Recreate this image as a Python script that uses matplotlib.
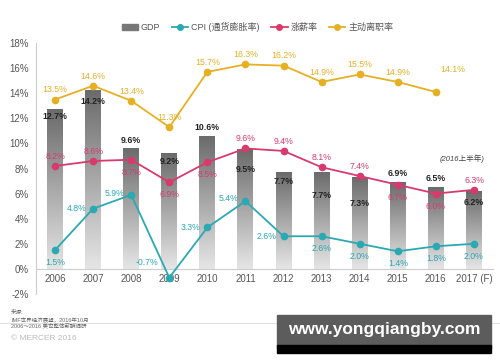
import numpy as np
import matplotlib
matplotlib.use("Agg")
import matplotlib.pyplot as plt
from matplotlib.patches import Rectangle
from matplotlib.lines import Line2D

plt.rcParams['font.family'] = ['Liberation Sans', 'Noto Sans CJK SC', 'DejaVu Sans']

# data
years = ['2006', '2007', '2008', '2009', '2010', '2011', '2012', '2013',
         '2014', '2015', '2016', '2017 (F)']
gdp = [12.7, 14.2, 9.6, 9.2, 10.6, 9.5, 7.7, 7.7, 7.3, 6.9, 6.5, 6.2]
cpi = [1.5, 4.8, 5.9, -0.7, 3.3, 5.4, 2.6, 2.6, 2.0, 1.4, 1.8, 2.0]
salary = [8.2, 8.6, 8.7, 6.9, 8.5, 9.6, 9.4, 8.1, 7.4, 6.7, 6.0, 6.3]
turnover = [13.5, 14.6, 13.4, 11.3, 15.7, 16.3, 16.2, 14.9, 15.5, 14.9, 14.1]

c_cpi = '#2aa9b2'
c_sal = '#d93a6e'
c_turn = '#e6b023'
c_txt = '#555555'

# label offsets in points (dx, dy)
gdp_off = [(0, -5), (0, -8), (0, 6), (0, -6), (0, 6), (0, -14), (0, -7),
           (0, -17), (0, -19), (0, 6), (0, 6), (0, -8)]
cpi_off = [(0, -9), (-12, 0), (-12, 1), (-16, 11), (-12, 0), (-12, 2),
           (-12, 0), (0, -9), (0, -9), (0, -9), (0, -9), (0, -9)]
sal_off = [(0, 7), (0, 7), (0, -9), (0, -9), (0, -9), (0, 7), (0, 7),
           (0, 7), (0, 7), (0, -9), (0, -9), (0, 7)]
turn_off = [(0, 7), (0, 7), (0, 7), (0, 7), (0, 7), (0, 7), (0, 7),
            (0, 7), (0, 7), (0, 7), (12, 16)]

fig = plt.figure(figsize=(5, 3.62), dpi=100)
ax = fig.add_axes([0.072, 0.188, 0.914, 0.693])
x = np.arange(len(years))
w = 0.42

# gradient bars
grad = np.linspace(0.9, 0.42, 256).reshape(-1, 1)
for xi, h in zip(x, gdp):
    ax.imshow(grad, extent=[xi - w / 2, xi + w / 2, 0, h], origin='lower',
              cmap='gray', vmin=0, vmax=1, aspect='auto', zorder=1)

ax.plot(x, cpi, color=c_cpi, lw=1.3, marker='o', ms=4.5, zorder=3)
ax.plot(x, salary, color=c_sal, lw=1.3, marker='o', ms=4.5, zorder=3)
ax.plot(x[:len(turnover)], turnover, color=c_turn, lw=1.3, marker='o', ms=4.5, zorder=3)

fs = 6.3
for xi, v, o in zip(x, gdp, gdp_off):
    ax.annotate(f'{v}%', (xi, v), xytext=o, textcoords='offset points',
                ha='center', va='center', fontsize=fs, fontweight='bold',
                color='#222222', zorder=4)
for xi, v, o in zip(x, cpi, cpi_off):
    ax.annotate(f'{v}%', (xi, v), xytext=o, textcoords='offset points',
                ha='center', va='center', fontsize=fs, color=c_cpi, zorder=4)
for xi, v, o in zip(x, salary, sal_off):
    ax.annotate(f'{v}%', (xi, v), xytext=o, textcoords='offset points',
                ha='center', va='center', fontsize=fs, color=c_sal, zorder=4)
for xi, v, o in zip(x, turnover, turn_off):
    ax.annotate(f'{v}%', (xi, v), xytext=o, textcoords='offset points',
                ha='center', va='center', fontsize=fs, color=c_turn, zorder=4)

ax.text(10.7, 8.8, '(2016上半年)', ha='center', va='center', fontsize=5.5,
        style='italic', color='#444444')

ax.set_xlim(-0.5, 11.5)
ax.set_ylim(-2, 18)
ax.set_yticks(np.arange(-2, 19, 2))
ax.set_yticklabels([f'{t}%' for t in range(-2, 19, 2)])
ax.set_xticks(x)
ax.set_xticklabels(years)
ax.tick_params(axis='both', length=0, labelsize=7, colors=c_txt)
ax.tick_params(axis='x', pad=4)
ax.tick_params(axis='y', pad=5)
for s in ['top', 'right']:
    ax.spines[s].set_visible(False)
ax.spines['left'].set_color('#cccccc')
ax.spines['bottom'].set_position(('data', 0))
ax.spines['bottom'].set_color('#cccccc')

handles = [
    Rectangle((0, 0), 1, 1, color='#777777'),
    Line2D([], [], color=c_cpi, marker='o', ms=4, lw=1.3),
    Line2D([], [], color=c_sal, marker='o', ms=4, lw=1.3),
    Line2D([], [], color=c_turn, marker='o', ms=4, lw=1.3),
]
fig.legend(handles, ['GDP', 'CPI (通货膨胀率)', '涨薪率', '主动离职率'],
           loc='center', bbox_to_anchor=(0.515, 0.925), ncol=4, frameon=False,
           fontsize=6.5, handlelength=1.8, handleheight=0.5, columnspacing=1.3,
           handletextpad=0.3, labelcolor=c_txt)

# footnotes
fig.text(0.022, 0.145, '来源:\nIMF世界经济展望，2016年10月\n2006～2016 美世整体薪酬调研',
         fontsize=4, color='#666666', va='top', linespacing=1.3)
fig.add_artist(Line2D([0, 1], [0.108, 0.108], color='#dddddd', lw=0.6))
fig.text(0.022, 0.065, '© MERCER 2016', fontsize=6, color='#bbbbbb', va='center')

# watermark box
fig.add_artist(Rectangle((0.554, 0.04), 0.428, 0.09, transform=fig.transFigure,
                         color='#5c5c5c', zorder=5))
fig.add_artist(Rectangle((0.554, 0.025), 0.428, 0.022, transform=fig.transFigure,
                         color='#000000', zorder=5))
fig.text(0.768, 0.09, 'www.yongqiangby.com', fontsize=12.5, fontweight='bold',
         color='white', ha='center', va='center', zorder=6)

fig.savefig('out.png', dpi=100)
